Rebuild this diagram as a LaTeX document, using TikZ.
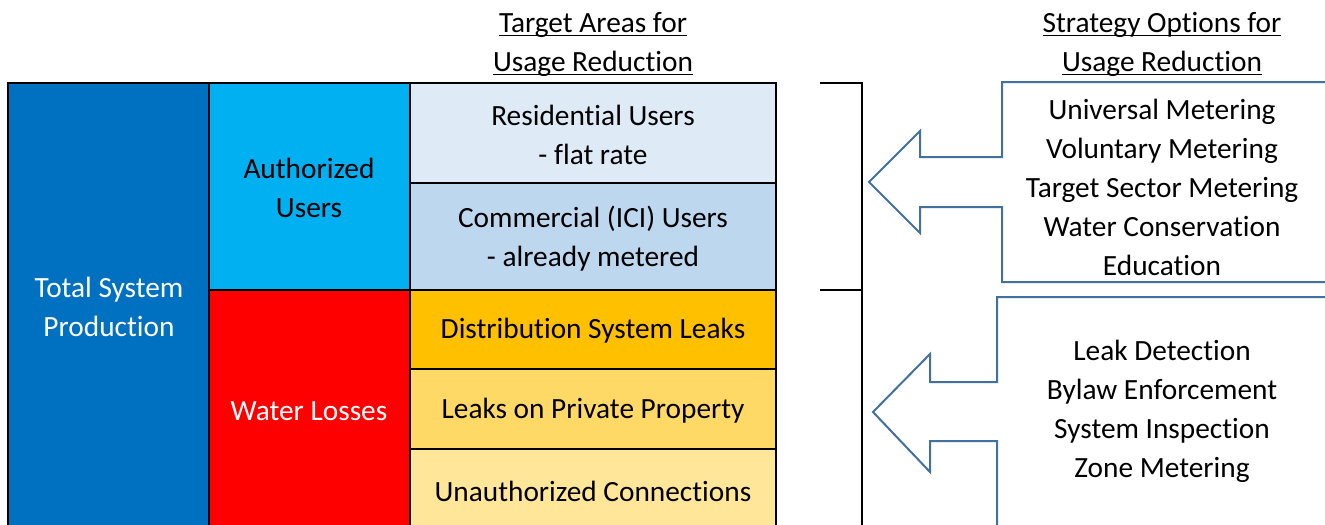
\documentclass[tikz,border=0pt]{standalone}
\usepackage{fontspec}
\setmainfont{Carlito}[Ligatures=NoCommon]

\definecolor{totalblue}{HTML}{0070C0}
\definecolor{authblue}{HTML}{00B0F0}
\definecolor{lossred}{HTML}{FF0000}
\definecolor{resfill}{HTML}{DEEBF7}
\definecolor{comfill}{HTML}{BDD7EE}
\definecolor{distfill}{HTML}{FFC000}
\definecolor{privfill}{HTML}{FFD966}
\definecolor{unauthfill}{HTML}{FFE699}
\definecolor{arrowblue}{RGB}{65,113,156}

% underline at a fixed depth below the baseline
\newcommand{\ulbar}[1]{\setbox0=\hbox{#1}\rlap{\rule[-3pt]{\wd0}{1.1pt}}\box0}

\tikzset{
  cell/.style={draw=black, line width=1.5pt},
  lbl/.style={align=center, inner sep=0pt, font=\fontsize{22}{29.25}\selectfont},
  callout/.style={draw=arrowblue, line width=1.5pt, line join=miter},
  bracket/.style={draw=black, line width=1.5pt},
}

\begin{document}
\begin{tikzpicture}[x=0.75pt, y=-0.75pt]
        \useasboundingbox (0,0) rectangle (1325,525);

        % Production column
        \filldraw[cell, fill=totalblue] (8,83) rectangle (209,535);
        \node[lbl, text=white] (total) at (109,307) {Total System\\Production};

        % Authorized users / water losses
        \filldraw[cell, fill=authblue] (209,83) rectangle (410,290);
        \filldraw[cell, fill=lossred] (209,290) rectangle (410,535);
        \node[lbl] (auth) at (309,188) {Authorized\\Users};
        \node[lbl, text=white] (losses) at (309,411) {Water Losses};

        % Target areas
        \filldraw[cell, fill=resfill] (410,83) rectangle (776,183);
        \filldraw[cell, fill=comfill] (410,183) rectangle (776,290);
        \filldraw[cell, fill=distfill] (410,290) rectangle (776,369);
        \filldraw[cell, fill=privfill] (410,369) rectangle (776,449);
        \filldraw[cell, fill=unauthfill] (410,449) rectangle (776,535);
        \node[lbl] (resid) at (593,135) {Residential Users\\- flat rate};
        \node[lbl] (comm) at (593,239) {Commercial (ICI) Users\\- already metered};
        \node[lbl] (dist) at (593,331) {Distribution System Leaks};
        \node[lbl] (priv) at (593,411) {Leaks on Private Property};
        \node[lbl] (unauth) at (593,491) {Unauthorized Connections};

        % Headings
        \node[lbl] (areaHead) at (593,44) {\ulbar{Target Areas for}\\\ulbar{Usage Reduction}};
        \node[lbl] (stratHead) at (1162,44) {\ulbar{Strategy Options for}\\\ulbar{Usage Reduction}};

        % Bracket
        \draw[bracket] (820,83) -| (862,535);
        \draw[bracket] (820,290) -- (862,290);

        % Metering callout
        \draw[callout] (1330,82) -- (1002,82) -- (1002,157) -- (920,157) -- (920,131)
            -- (869,182) -- (920,233) -- (920,207) -- (1002,207) -- (1002,282) -- (1330,282);
        \node[lbl] (meterList) at (1162,187) {Universal Metering\\Voluntary Metering\\Target Sector Metering\\Water Conservation\\Education};

        % Leakage callout
        \draw[callout] (1330,297) -- (997,297) -- (997,382) -- (930,382) -- (930,354)
            -- (873,412) -- (930,472) -- (930,441) -- (997,441) -- (997,535);
        \node[lbl] (leakList) at (1162,411) {Leak Detection\\Bylaw Enforcement\\System Inspection\\Zone Metering};
\end{tikzpicture}
\end{document}
